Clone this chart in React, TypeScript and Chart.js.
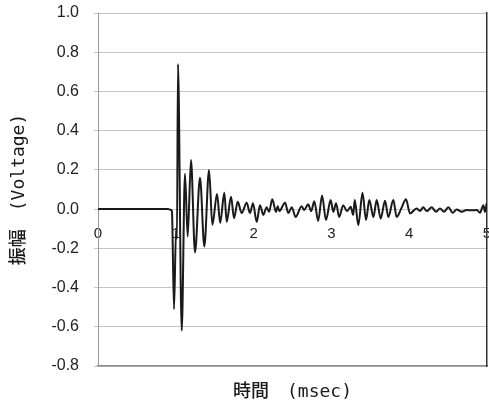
import { useEffect, useRef } from "react";
import { Chart, registerables } from "chart.js";

Chart.register(...registerables);

// time in msec
const timeMs = [
  0, 0.9, 0.93, 0.95, 0.977, 1.003, 1.015, 1.028, 1.076, 1.118, 1.153, 1.195, 1.247, 1.311, 1.367, 1.427,
  1.47, 1.53, 1.57, 1.624, 1.654, 1.71, 1.748, 1.796, 1.847, 1.911, 1.954, 1.992, 2.04, 2.082, 2.125, 2.168,
  2.198, 2.24, 2.288, 2.31, 2.33, 2.404, 2.447, 2.49, 2.54, 2.617, 2.65, 2.7, 2.74, 2.78, 2.83, 2.88,
  2.93, 2.99, 3.025, 3.06, 3.1, 3.152, 3.2, 3.248, 3.28, 3.3, 3.346, 3.4, 3.445, 3.487, 3.54, 3.582,
  3.634, 3.689, 3.732, 3.796, 3.839, 3.9, 3.959, 4.01, 4.095, 4.139, 4.18, 4.225, 4.29, 4.345, 4.396, 4.447,
  4.503, 4.559, 4.61, 4.675, 4.739, 4.8, 4.868, 4.91, 4.953, 4.974, 4.996,
];
// amplitude in volts
const voltage = [
  0, 0, -0.003, -0.01, -0.51, -0.11, -0.15, 0.74, -0.62, 0.18, -0.14, 0.25, -0.22, 0.16, -0.19, 0.2,
  -0.08, 0.077, -0.07, 0.083, -0.065, 0.063, -0.046, 0.037, -0.02, 0.032, -0.02, 0.03, -0.065, 0.02, -0.03, 0.01,
  -0.014, 0.05, -0.014, 0.015, -0.01, 0.032, -0.02, 0.01, -0.04, 0.015, -0.005, 0.025, -0.01, 0.04, -0.06, 0.07,
  -0.056, 0.046, -0.014, 0.03, -0.04, 0.02, -0.01, 0.012, -0.03, 0.046, -0.082, 0.083, -0.056, 0.046, -0.04, 0.046,
  -0.048, 0.043, -0.04, 0.046, -0.04, 0.005, 0.05, -0.022, 0.003, -0.009, 0.009, -0.01, 0.009, -0.014, 0.003, -0.014,
  0.009, -0.019, -0.002, -0.014, -0.005, -0.006, -0.005, -0.019, 0.02, -0.014, 0.03,
];

const xTickValues = [0, 1, 2, 3, 4, 5];
const yTickValues = [-0.8, -0.6, -0.4, -0.2, 0, 0.2, 0.4, 0.6, 0.8, 1.0];
const xTitle = "時間\u3000(msec)";
const yTitle = "振幅\u3000(Voltage)";

const titleFamily = '"DejaVu Sans Mono", "Noto Sans CJK JP", monospace';
const tickFamily = '"Liberation Sans", Arial, sans-serif';

const noPad = (s: any) => {
  s.paddingLeft = 0;
  s.paddingRight = 0;
  s.paddingTop = 0;
  s.paddingBottom = 0;
};

export default function App() {
  const ref = useRef<HTMLCanvasElement | null>(null);

  useEffect(() => {
    if (!ref.current) return;
    const points = timeMs.map((t, i) => ({ x: t, y: voltage[i] }));
    const chart = new Chart(ref.current, {
      type: "line",
      data: {
        datasets: [
          {
            data: points,
            borderColor: "#1a1a1a",
            borderWidth: 2,
            pointRadius: 0,
            cubicInterpolationMode: "monotone",
            xAxisID: "x",
            yAxisID: "y",
          },
        ],
      },
      options: {
        animation: false,
        responsive: false,
        devicePixelRatio: 1,
        layout: { padding: { top: 13, right: 2, left: 0, bottom: 0 } },
        plugins: { legend: { display: false }, tooltip: { enabled: false } },
        scales: {
          x: {
            type: "linear",
            position: "bottom",
            min: 0,
            max: 5,
            ticks: { display: false },
            grid: { display: false, drawTicks: false },
            border: { display: true, color: "#8c8c8c", width: 1.5 },
            title: {
              display: true,
              text: xTitle,
              font: { family: titleFamily, size: 18, weight: "500" },
              color: "#1a1a1a",
              padding: { top: 0, bottom: 0 },
            },
            afterFit: (s: any) => {
              s.height = 37;
              noPad(s);
            },
          },
          xLabels: {
            axis: "x",
            type: "linear",
            position: { y: 0 },
            min: 0,
            max: 5,
            afterBuildTicks: (s: any) => {
              s.ticks = xTickValues.map((v) => ({ value: v }));
            },
            ticks: {
              font: { family: tickFamily, size: 15 },
              color: "#222",
              padding: 16,
              maxRotation: 0,
              autoSkip: false,
              callback: (v: any) => String(v),
            },
            grid: { display: false, drawTicks: false },
            border: { display: false },
            afterFit: (s: any) => {
              noPad(s);
            },
          },
          y: {
            type: "linear",
            position: "left",
            min: -0.8,
            max: 1.0,
            afterBuildTicks: (s: any) => {
              s.ticks = yTickValues.map((v) => ({ value: v }));
            },
            ticks: {
              font: { family: tickFamily, size: 16 },
              color: "#222",
              padding: 15,
              callback: (v: any) => Number(v).toFixed(1),
            },
            grid: { color: "#c4c4c4", lineWidth: 1, tickLength: 4 },
            border: { display: true, color: "#9a9a9a", width: 1 },
            title: {
              display: true,
              text: yTitle,
              font: { family: titleFamily, size: 18, weight: "500" },
              color: "#1a1a1a",
              padding: { top: 9, bottom: 0 },
            },
            afterFit: (s: any) => {
              s.width = 98;
              noPad(s);
            },
          },
          yRight: {
            axis: "y",
            type: "linear",
            position: "right",
            min: -0.8,
            max: 1.0,
            ticks: { display: false },
            grid: { display: false, drawTicks: false },
            border: { display: true, color: "#333", width: 1.5 },
            afterFit: (s: any) => {
              s.width = 0;
              noPad(s);
            },
          },
        },
      },
    });
    return () => chart.destroy();
  }, []);

  return (
    <div style={{ position: "absolute", left: 0, top: 0, width: 489, height: 403, background: "#fff" }}>
      <canvas ref={ref} width={489} height={403} style={{ display: "block" }} />
    </div>
  );
}
